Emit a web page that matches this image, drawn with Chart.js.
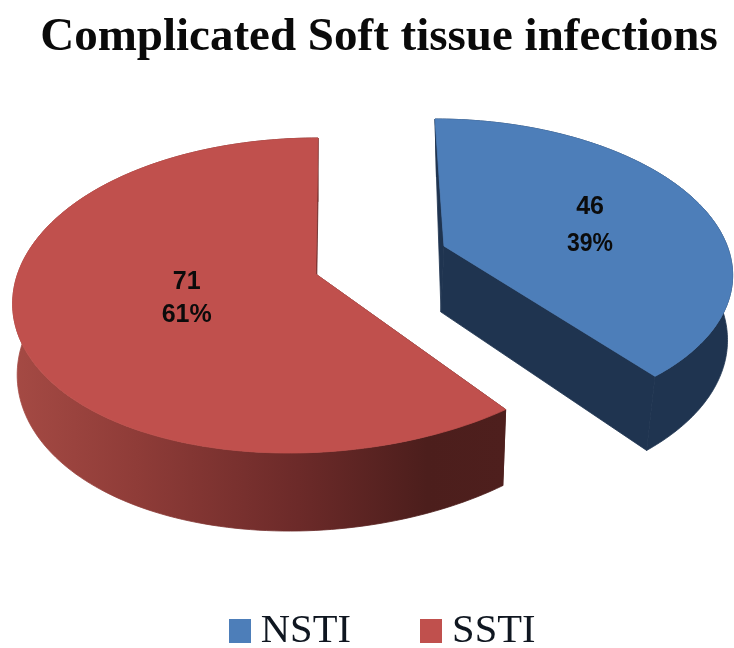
<!DOCTYPE html>
<html><head><meta charset="utf-8">
<style>html,body{margin:0;padding:0;background:#fff}#w{width:734px;height:648px}canvas{filter:blur(.5px)}</style>
<script src="https://cdn.jsdelivr.net/npm/chart.js@4"></script></head>
<body><div id="w"><canvas id="c"></canvas></div>
<script>
const titleText = 'Complicated Soft tissue infections';
const categories = ['NSTI', 'SSTI'];
const counts = [46, 71];
const percents = ['39%', '61%'];
const topColors = ['#4d7eb9', '#c0504d'];

// Perspective of the tilted, exploded pie (one view per slice).
const views = [
  {cx:445.8, cy:269, a:286.6, b:150, k:.153, c1:11.9, c2:1.1, d0:66, dk:.062, sh0:-3, shx:-.004, shy:-.035, lr:.55, la:.08, gap:37,
   wall:[[0,'#1f3450'],[1,'#1f3450']], labelW:46},
  {cx:314, cy:295.5, a:301, b:157.5, k:.1365, c1:-14.5, c2:-10.5, d0:70, dk:.045, sh0:0, shx:-.015, shy:0, lr:.445, la:-.02, gap:33,
   wall:[[0,'#a54a44'],[.25,'#8f3c38'],[.58,'#6c2a29'],[.84,'#4c1e1c'],[1,'#4e1f1d']], labelW:54}
];
function proj(v, r, ang){
  const p = r*Math.cos(ang), q = r*Math.sin(ang), w = 1 - v.k*q;
  const Q = (q - v.k)/w, P = p*Math.sqrt(1 - v.k*v.k)/w;
  return {x: v.cx + v.a*P + v.c1*Q + v.c2*Q*Q, y: v.cy + v.b*Q};
}
function lower(v, pt){
  const ap = proj(v,0,0), dx = pt.x - ap.x, dy = pt.y - ap.y;
  return {x: pt.x + v.sh0 + v.shx*dx + v.shy*dy, y: pt.y + v.d0 + v.dk*dy};
}
function samples(v, a0, a1){
  const n = 160, out = [];
  for(let i=0;i<=n;i++) out.push(proj(v, 1, a0+(a1-a0)*i/n));
  return out;
}
function poly(ctx, pts, fill){
  ctx.beginPath();
  pts.forEach((p,i)=> i?ctx.lineTo(p.x,p.y):ctx.moveTo(p.x,p.y));
  ctx.closePath();
  ctx.fillStyle = fill; ctx.fill();
  ctx.strokeStyle = fill; ctx.lineWidth = .8; ctx.stroke();
}
const pie3d = {
  id:'pie3d',
  afterLayout(chart){
    const lg = chart.legend;
    const shift = 532 - lg.top;
    lg.top += shift; lg.bottom += shift;
    lg.left += 8; lg.right += 8;
  },
  beforeDatasetsDraw(chart){
    const ctx = chart.ctx, arcs = chart.getDatasetMeta(0).data;
    arcs.forEach((arc,i)=>{
      const v = views[i], rim = samples(v, arc.startAngle, arc.endAngle);
      const apex = proj(v, 0, 0);
      const xs = rim.map(p=>p.x), x0 = Math.min(...xs), x1 = Math.max(...xs);
      const wall = ctx.createLinearGradient(x0,0,x1,0);
      v.wall.forEach(s=>wall.addColorStop(s[0],s[1]));
      ctx.save();
      const a = rim[0], b = rim[rim.length-1];
      poly(ctx,[apex,a,lower(v,a),lower(v,apex)],wall);
      poly(ctx,[apex,b,lower(v,b),lower(v,apex)],wall);
      poly(ctx, rim.concat(rim.map(p=>lower(v,p)).reverse()), wall);
      poly(ctx, [apex].concat(rim), arc.options.backgroundColor);
      ctx.restore();
    });
    ctx.save();
    ctx.fillStyle='#0b0b0b'; ctx.textAlign='center'; ctx.textBaseline='middle';
    ctx.font='bold 25px "Liberation Sans"';
    arcs.forEach((arc,i)=>{
      const v = views[i], p = proj(v, v.lr, (arc.startAngle+arc.endAngle)/2 + v.la);
      ctx.fillText(String(counts[i]), p.x, p.y - v.gap/2);
      ctx.fillText(percents[i], p.x, p.y + v.gap/2, v.labelW);
    });
    ctx.restore();
    return false;
  }
};
function swatch(color){
  const s = document.createElement('canvas'); s.width=22; s.height=24;
  const g = s.getContext('2d'); g.fillStyle=color; g.fillRect(0,0,22,24);
  return s;
}
new Chart(document.getElementById('c'),{
  type:'pie',
  data:{labels:categories,datasets:[{data:counts,backgroundColor:topColors,borderWidth:0}]},
  plugins:[pie3d],
  options:{
    responsive:true,maintainAspectRatio:false,animation:false,
    layout:{padding:{left:24,top:0,right:0,bottom:0}},
    plugins:{
      tooltip:{enabled:false},
      title:{display:true,text:titleText,color:'#0a0a0a',
        font:{family:'"Liberation Serif"',size:47,weight:'bold'},padding:{top:10,bottom:10}},
      legend:{display:true,position:'bottom',
        labels:{usePointStyle:true,boxWidth:2,boxHeight:24,padding:79,color:'#0f1620',
          font:{family:'"Liberation Serif"',size:40.5},
          generateLabels(chart){
            return categories.map((t,i)=>({text:t,fillStyle:topColors[i],strokeStyle:topColors[i],lineWidth:0,
              fontColor:'#0f1620',pointStyle:swatch(topColors[i]),index:i,hidden:false}));
          }}}
    }
  }
});
</script></body></html>
